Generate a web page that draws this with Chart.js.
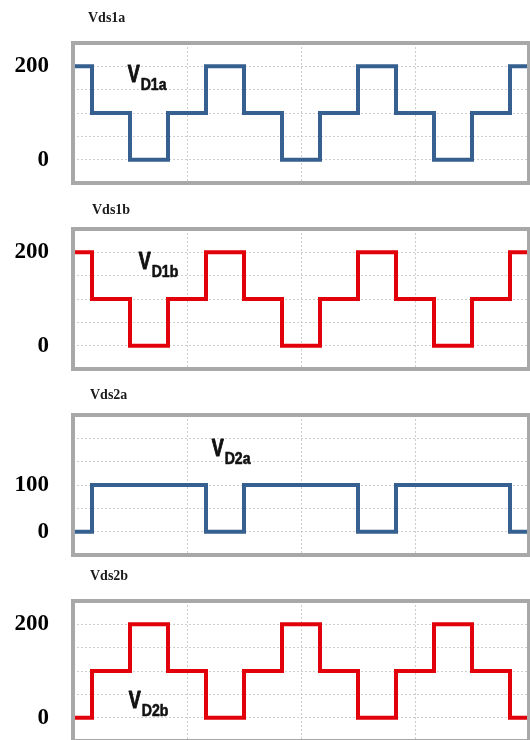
<!DOCTYPE html>
<html>
<head>
<meta charset="utf-8">
<script src="https://cdn.jsdelivr.net/npm/chart.js@4.4.0/dist/chart.umd.min.js"></script>
<style>
  html, body { margin: 0; padding: 0; background: #fff; overflow: hidden; }
  #wrap { position: relative; width: 530px; height: 740px; }
  .pane { position: absolute; left: 0; width: 530px; height: 186px; }
  .ttl { position: absolute; font: bold 14px "Liberation Serif", "Times New Roman", serif; color: #1a1a1a; line-height: 14px; }
</style>
</head>
<body>
<div id="wrap">
  <div class="pane" style="top:0px"><canvas id="c1" width="530" height="186"></canvas></div>
  <div class="pane" style="top:186px"><canvas id="c2" width="530" height="186"></canvas></div>
  <div class="pane" style="top:372px"><canvas id="c3" width="530" height="186"></canvas></div>
  <div class="pane" style="top:558px"><canvas id="c4" width="530" height="186"></canvas></div>
  <div class="ttl" style="left:88px; top:11px">Vds1a</div>
  <div class="ttl" style="left:92px; top:203px">Vds1b</div>
  <div class="ttl" style="left:90px; top:388px">Vds2a</div>
  <div class="ttl" style="left:90px; top:569px">Vds2b</div>
</div>
<script>
// switching instants (one unit = a third of a grid division) and the level held from each one
const tEdges = [0, 0.5, 1.5, 2.5, 3.5, 4.5, 5.5, 6.5, 7.5, 8.5, 9.5, 10.5, 11.5, 12];
const vds1a = [200, 100, 0, 100, 200, 100, 0, 100, 200, 100, 0, 100, 200, 200];
const vds1b = [200, 100, 0, 100, 200, 100, 0, 100, 200, 100, 0, 100, 200, 200];
const vds2a = [0, 100, 100, 100, 0, 100, 100, 100, 0, 100, 100, 100, 0, 0];
const vds2b = [0, 100, 200, 100, 0, 100, 200, 100, 0, 100, 200, 100, 0, 0];

const yTicks = [-50, 0, 50, 100, 150, 200, 250];
const shown1a = [0, 200];
const shown1b = [0, 200];
const shown2a = [0, 100];
const shown2b = [0, 200];

const BLUE = '#36608f';
const RED = '#e2000b';

// grey box round the plot area
const frame = {
  id: 'frame',
  afterDatasetsDraw(chart) {
    const a = chart.chartArea, ctx = chart.ctx;
    ctx.save();
    ctx.strokeStyle = '#a8a8a8';
    ctx.lineWidth = 4;
    ctx.strokeRect(a.left, a.top, a.right - a.left, a.bottom - a.top);
    ctx.restore();
  }
};

// "V" with a subscript, placed in data coordinates (narrow and heavy, like the original)
function heavyText(ctx, txt) {
  ctx.fillText(txt, 0, 0);
  ctx.strokeText(txt, 0, 0);
}

const vLabel = {
  id: 'vLabel',
  afterDatasetsDraw(chart, args, opts) {
    if (!opts || !opts.sub) return;
    const x = chart.scales.x.getPixelForValue(opts.x);
    const y = chart.scales.y.getPixelForValue(opts.y);
    const ctx = chart.ctx;
    ctx.save();
    ctx.fillStyle = '#111';
    ctx.strokeStyle = '#111';
    ctx.lineWidth = 1;
    ctx.lineJoin = 'round';
    ctx.textBaseline = 'alphabetic';
    ctx.translate(x, y);
    ctx.save();
    ctx.scale(0.78, 1);
    ctx.font = 'bold 23px "Liberation Sans", sans-serif';
    heavyText(ctx, 'V');
    const w = ctx.measureText('V').width * 0.78;
    ctx.restore();
    ctx.translate(w + 1, 8);
    ctx.scale(0.88, 1);
    ctx.font = 'bold 16px "Liberation Sans", sans-serif';
    ctx.lineWidth = 0.6;
    heavyText(ctx, opts.sub);
    ctx.restore();
  }
};

function makePanel(id, levels, color, shown, note) {
  const gridStyle = { color: '#cdcdcd', lineWidth: 1, drawTicks: false };
  new Chart(document.getElementById(id), {
    type: 'line',
    data: {
      datasets: [{
        data: tEdges.map((t, i) => ({ x: t, y: levels[i] })),
        borderColor: color,
        borderWidth: 4,
        stepped: 'before',
        borderJoinStyle: 'miter',
        pointRadius: 0,
        fill: false
      }]
    },
    options: {
      responsive: false,
      animation: false,
      layout: { padding: { top: 43, bottom: 3, right: 1, left: 0 } },
      plugins: {
        legend: { display: false },
        tooltip: { enabled: false },
        vLabel: note
      },
      scales: {
        x: {
          type: 'linear',
          min: 0,
          max: 12,
          ticks: { display: false, stepSize: 3 },
          grid: gridStyle,
          border: { display: false, dash: [2, 2] },
          afterFit(s) { s.height = 0; s.paddingLeft = 0; s.paddingRight = 0; }
        },
        y: {
          min: -50,
          max: 250,
          afterBuildTicks(s) { s.ticks = yTicks.map(v => ({ value: v })); },
          ticks: {
            autoSkip: false,
            padding: 24,
            color: '#000',
            font: { family: '"Liberation Serif", "Times New Roman", serif', size: 23, weight: 'bold' },
            callback: v => shown.includes(v) ? String(v) : ''
          },
          grid: gridStyle,
          border: { display: false, dash: [2, 2] },
          afterFit(s) { s.width = 73; s.paddingTop = 0; s.paddingBottom = 0; }
        }
      }
    },
    plugins: [frame, vLabel]
  });
}

makePanel('c1', vds1a, BLUE, shown1a, { sub: 'D1a', x: 1.44, y: 167 });
makePanel('c2', vds1b, RED, shown1b, { sub: 'D1b', x: 1.73, y: 165 });
makePanel('c3', vds2a, BLUE, shown2a, { sub: 'D2a', x: 3.65, y: 163 });
makePanel('c4', vds2b, RED, shown2b, { sub: 'D2b', x: 1.47, y: 21 });
</script>
</body>
</html>
